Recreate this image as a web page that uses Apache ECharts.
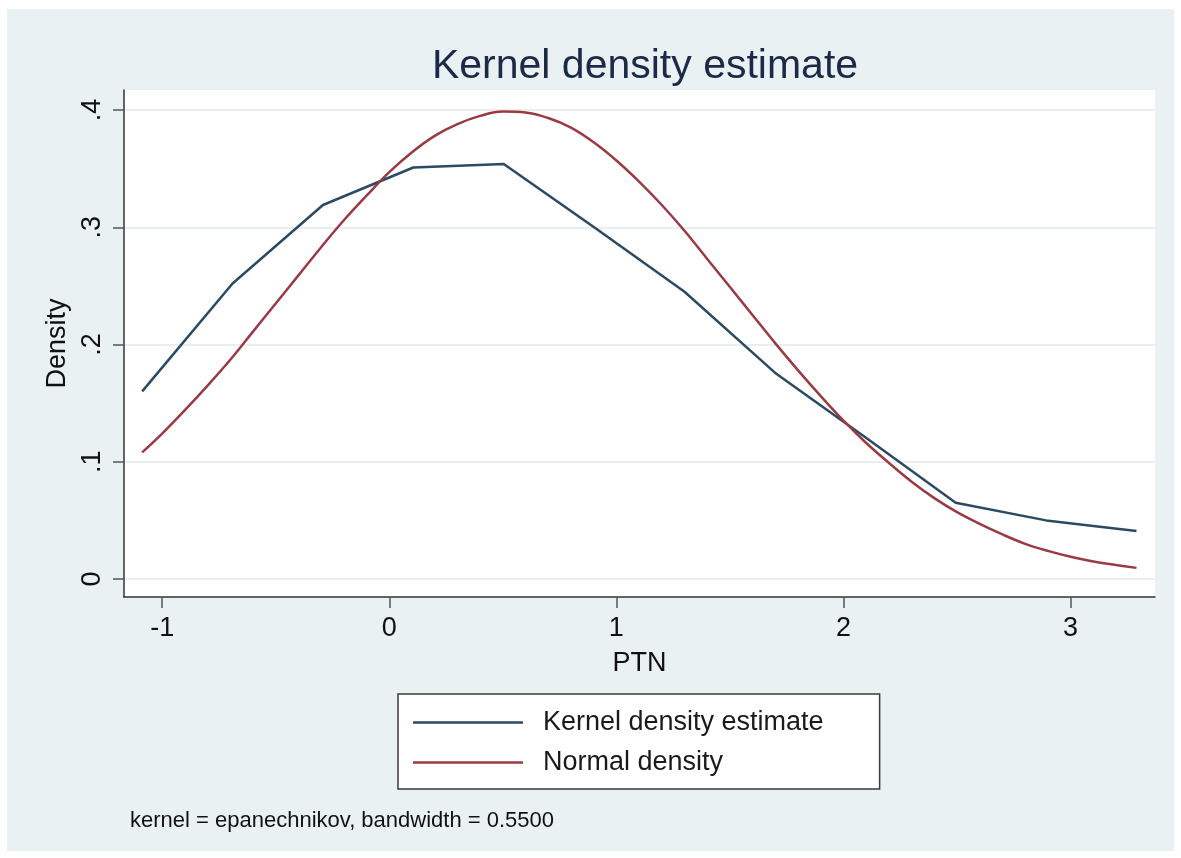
<!DOCTYPE html>
<html>
<head>
<meta charset="utf-8">
<script src="https://cdn.jsdelivr.net/npm/echarts@6/dist/echarts.min.js"></script>
<style>
  html, body { margin: 0; padding: 0; background: #fff; }
  #chart { width: 1181px; height: 858px; }
</style>
</head>
<body>
<div id="chart"></div>
<script>
// kernel density estimate (epanechnikov, bw = 0.55)
var kdeX = [-1.088, -0.690, -0.292, 0.106, 0.504, 0.902, 1.300, 1.698, 2.096, 2.494, 2.892, 3.290];
var kdeY = [0.160, 0.252, 0.319, 0.351, 0.354, 0.300, 0.245, 0.176, 0.121, 0.065, 0.050, 0.041];

// normal density overlay
var normX = [-1.088, -1.0, -0.9, -0.8, -0.7, -0.6, -0.5, -0.4, -0.3, -0.2, -0.1, 0.0,
             0.1, 0.2, 0.3, 0.4, 0.5, 0.6, 0.7, 0.8, 0.9, 1.0, 1.1, 1.2,
             1.3, 1.4, 1.5, 1.6, 1.7, 1.8, 1.9, 2.0, 2.1, 2.2, 2.3, 2.4,
             2.5, 2.6, 2.7, 2.8, 2.9, 3.0, 3.1, 3.2, 3.29];
var normY = [0.108, 0.124, 0.144, 0.165, 0.187, 0.211, 0.235, 0.259, 0.283, 0.306, 0.327, 0.347,
             0.364, 0.378, 0.388, 0.395, 0.3987, 0.3979, 0.3932, 0.385, 0.3725, 0.357, 0.339, 0.319,
             0.297, 0.273, 0.249, 0.225, 0.201, 0.178, 0.156, 0.135, 0.116, 0.099, 0.083, 0.069,
             0.057, 0.047, 0.038, 0.030, 0.024, 0.019, 0.015, 0.012, 0.0095];

var xTicks = [-1, 0, 1, 2, 3];
var yTicks = [0, 0.1, 0.2, 0.3, 0.4];
var yTickLabels = ['0', '.1', '.2', '.3', '.4'];

function zip(xs, ys) {
  return xs.map(function (x, i) { return [x, ys[i]]; });
}

var font = '"Liberation Sans", Arial, Helvetica, sans-serif';
var chart = echarts.init(document.getElementById('chart'));

var option = {
  animation: false,
  title: {
    text: 'Kernel density estimate',
    left: 640,
    top: 41,
    textAlign: 'center',
    textStyle: { fontFamily: font, fontSize: 41, fontWeight: 'normal', color: '#1c2a48' }
  },
  graphic: [
    {
      type: 'rect', z: -10, silent: true,
      shape: { x: 7, y: 9, width: 1167, height: 842 },
      style: { fill: '#eaf1f3' }
    },
    {
      type: 'text', left: 130, top: 810,
      style: {
        text: 'kernel = epanechnikov, bandwidth = 0.5500',
        font: '22px ' + font, fill: '#111'
      }
    }
  ],
  legend: {
    orient: 'vertical',
    left: 398,
    top: 694,
    padding: [15, 56, 13, 15],
    itemGap: 13,
    itemWidth: 110,
    itemHeight: 2.5,
    icon: 'rect',
    backgroundColor: '#fff',
    borderColor: '#3a3a3a',
    borderWidth: 1.5,
    borderRadius: 0,
    textStyle: { fontFamily: font, fontSize: 27, color: '#1a1a1a', padding: [0, 0, 0, 15] },
    data: ['Kernel density estimate', 'Normal density']
  },
  grid: {
    left: 124, top: 90, right: 26, bottom: 261,
    show: true, backgroundColor: '#fff', borderWidth: 0
  },
  xAxis: {
    type: 'value',
    min: -1.168, max: 3.3716,
    name: 'PTN',
    nameLocation: 'middle',
    nameGap: 53,
    nameTextStyle: { fontFamily: font, fontSize: 27, color: '#111' },
    axisLine: { onZero: false, lineStyle: { color: '#333', width: 1.5 } },
    axisTick: { customValues: xTicks, length: 11, lineStyle: { color: '#555', width: 1.5 } },
    axisLabel: {
      customValues: xTicks,
      margin: 18,
      fontFamily: font, fontSize: 27, color: '#111'
    },
    splitLine: { show: false }
  },
  yAxis: {
    type: 'value',
    min: -0.01535, max: 0.4171,
    name: 'Density',
    nameLocation: 'middle',
    nameGap: 50,
    nameTextStyle: { fontFamily: font, fontSize: 27, color: '#111' },
    axisLine: { show: true, onZero: false, lineStyle: { color: '#333', width: 1.5 } },
    axisTick: { show: true, customValues: yTicks, length: 11, lineStyle: { color: '#555', width: 1.5 } },
    axisLabel: {
      customValues: yTicks,
      rotate: 90,
      margin: 18,
      fontFamily: font, fontSize: 27, color: '#111',
      formatter: function (v) {
        var i = yTicks.findIndex(function (t) { return Math.abs(t - v) < 1e-6; });
        return i >= 0 ? yTickLabels[i] : '';
      }
    },
    splitLine: { show: true, lineStyle: { color: '#e9eff1', width: 2 } }
  },
  series: [
    {
      name: 'Kernel density estimate',
      type: 'line',
      symbol: 'none',
      lineStyle: { color: '#2b4a64', width: 2.5 },
      itemStyle: { color: '#2b4a64' },
      data: zip(kdeX, kdeY)
    },
    {
      name: 'Normal density',
      type: 'line',
      symbol: 'none',
      smooth: 0.4,
      lineStyle: { color: '#9a3a43', width: 2.5 },
      itemStyle: { color: '#9a3a43' },
      data: zip(normX, normY)
    }
  ]
};

chart.setOption(option);
</script>
</body>
</html>
